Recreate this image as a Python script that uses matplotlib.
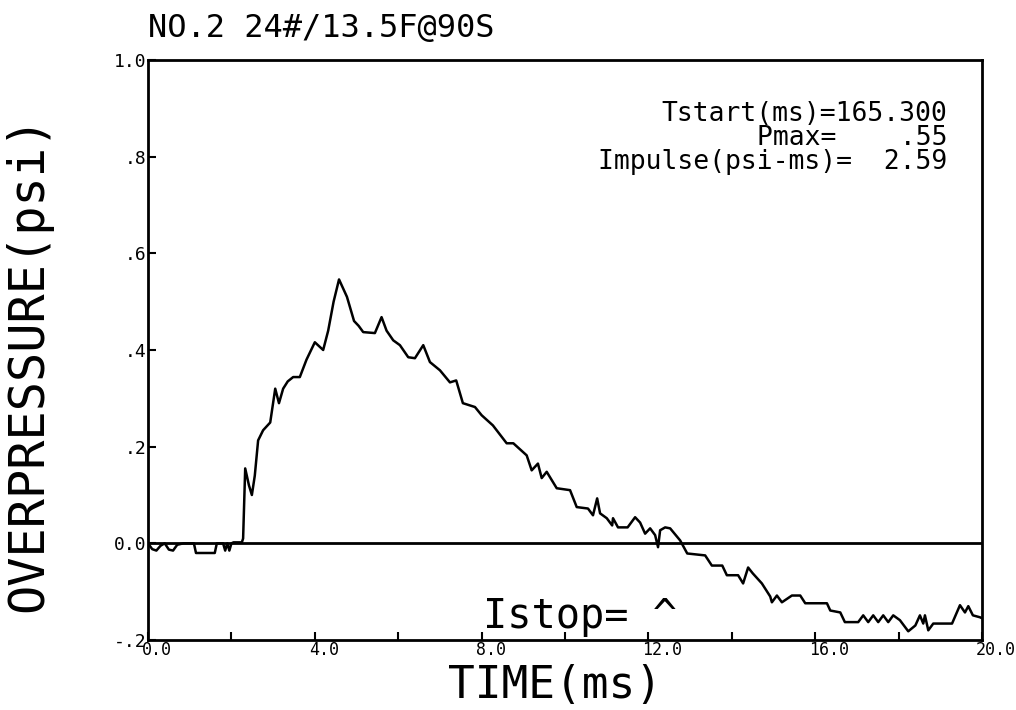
import matplotlib
matplotlib.use("Agg")
import matplotlib.pyplot as plt
import matplotlib.transforms as mtransforms
from matplotlib.ticker import MultipleLocator

plt.rcParams['font.family'] = ['DejaVu Sans Mono']

title = "NO.2 24#/13.5F@90S"
info_lines = ["Tstart(ms)=165.300", "Pmax=    .55", "Impulse(psi-ms)=  2.59"]

# pressure trace (ms, psi)
time_ms = [0.0, 0.1, 0.2, 0.3, 0.4, 0.5, 0.6, 0.7, 0.85, 1.1, 1.15, 1.6, 1.65, 1.8,
           1.85, 1.9, 1.95, 2.0, 2.05, 2.25, 2.28,
           2.33, 2.42, 2.49, 2.56, 2.64, 2.76, 2.93, 3.05, 3.14, 3.24, 3.35, 3.48,
           3.64, 3.8, 4.0, 4.2, 4.32, 4.45, 4.58, 4.77, 4.94, 5.05, 5.16, 5.44,
           5.6, 5.72, 5.88, 6.04, 6.24, 6.4, 6.6, 6.76, 7.0, 7.24, 7.39, 7.55,
           7.84, 8.0, 8.27, 8.6, 8.76, 9.08, 9.2, 9.35, 9.44, 9.56, 9.8, 10.12,
           10.28, 10.55, 10.67, 10.77, 10.84, 11.0, 11.13, 11.15, 11.27, 11.5,
           11.68, 11.8, 11.92, 12.04, 12.16, 12.23, 12.28, 12.4, 12.52, 12.76,
           12.93, 13.36, 13.52, 13.77, 13.88, 14.15, 14.27, 14.39, 14.5, 14.72,
           14.92, 14.96, 15.08, 15.2, 15.44, 15.64, 15.76, 16.28, 16.36, 16.6,
           16.71, 17.03, 17.15, 17.27, 17.39, 17.51, 17.63, 17.75, 17.87, 18.03,
           18.23, 18.4, 18.51, 18.59, 18.63, 18.71, 18.83, 19.28, 19.47, 19.59,
           19.67, 19.78, 19.95, 20.0]
pressure = [0.0, -0.012, -0.015, -0.005, 0.0, -0.013, -0.015, -0.003, 0.0, 0.0, -0.02,
            -0.02, 0.0, 0.0, -0.015, 0.0, -0.015, 0.0, 0.002, 0.002, 0.01,
            0.155, 0.12, 0.10, 0.14, 0.213, 0.234, 0.25, 0.32, 0.29, 0.32, 0.335, 0.344,
            0.344, 0.38, 0.416, 0.40, 0.44, 0.5, 0.546, 0.51, 0.46, 0.45, 0.437, 0.435,
            0.468, 0.44, 0.42, 0.41, 0.385, 0.383, 0.41, 0.375, 0.358, 0.333, 0.337, 0.29,
            0.282, 0.265, 0.244, 0.207, 0.207, 0.182, 0.151, 0.165, 0.135, 0.148, 0.114, 0.11,
            0.075, 0.072, 0.058, 0.093, 0.062, 0.052, 0.037, 0.052, 0.033, 0.033,
            0.054, 0.043, 0.02, 0.031, 0.017, -0.008, 0.027, 0.033, 0.031, 0.006,
            -0.021, -0.025, -0.046, -0.046, -0.066, -0.066, -0.083, -0.05, -0.062, -0.083,
            -0.11, -0.122, -0.108, -0.122, -0.108, -0.108, -0.124, -0.124, -0.139, -0.143,
            -0.163, -0.163, -0.149, -0.163, -0.149, -0.163, -0.149, -0.163, -0.149, -0.159,
            -0.182, -0.17, -0.149, -0.166, -0.149, -0.18, -0.166, -0.166, -0.128, -0.143,
            -0.13, -0.149, -0.153, -0.155]

x_ticks = [0, 4, 8, 12, 16, 20]
x_labels = ["0.0", "4.0", "8.0", "12.0", "16.0", "20.0"]
y_ticks = [-0.2, 0.0, 0.2, 0.4, 0.6, 0.8, 1.0]
y_labels = ["-.2", "0.0", ".2", ".4", ".6", ".8", "1.0"]

fig = plt.figure(figsize=(10.16, 7.10), dpi=100, facecolor="w")
ax = fig.add_axes([0.1457, 0.0986, 0.8209, 0.8169])

ax.axhline(0.0, color="k", lw=2.0)
ax.plot(time_ms, pressure, color="k", lw=1.8)

ax.set_xlim(0, 20)
ax.set_ylim(-0.2, 1.0)
ax.set_xticks(x_ticks)
ax.set_xticklabels(x_labels, fontsize=12, ha="left")
ax.xaxis.set_minor_locator(MultipleLocator(2))
ax.set_yticks(y_ticks)
ax.set_yticklabels(y_labels, fontsize=13)
ax.tick_params(axis="both", which="both", direction="in", length=6, width=1.5)
ax.tick_params(axis="x", pad=1)
ax.tick_params(axis="y", pad=1)
# plotter put the x labels a bit left of the tick
offset = mtransforms.ScaledTranslation(-6 / 100, 0, fig.dpi_scale_trans)
for lbl in ax.get_xticklabels():
    lbl.set_transform(lbl.get_transform() + offset)

for sp in ax.spines.values():
    sp.set_linewidth(2.0)

fig.text(148 / 1016, 1 - 37 / 710, title, fontsize=23, ha="left", va="baseline")
fig.text(28 / 1016, 1 - 363 / 710, "OVERPRESSURE(psi)", fontsize=35,
         rotation=90, ha="center", va="center")
fig.text(555 / 1016, 1 - 698 / 710, "TIME(ms)", fontsize=32, ha="center", va="baseline")

# the three result lines sit tight together, one text block
ax.text(19.17, 0.915, "\n".join(info_lines), fontsize=19, ha="right", va="top",
        multialignment="right", linespacing=0.9)

ax.text(8.03, -0.176, "Istop= ^", fontsize=29, ha="left", va="baseline")

plt.savefig("out.png", dpi=100)
